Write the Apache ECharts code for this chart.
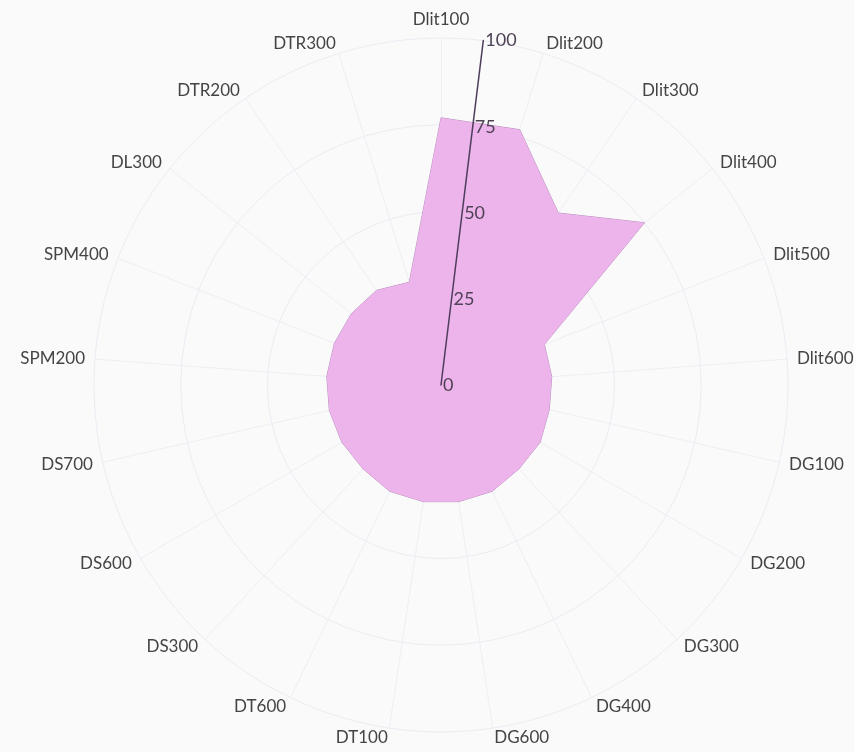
<!DOCTYPE html>
<html>
<head>
<meta charset="utf-8">
<script src="https://cdn.jsdelivr.net/npm/echarts@6/dist/echarts.min.js"></script>
<style>
  html, body { margin: 0; padding: 0; background: #fafafa; }
  #chart { width: 854px; height: 752px; }
</style>
</head>
<body>
<div id="chart"></div>
<script>
// indicator names, clockwise from the top
var names = ['Dlit100', 'Dlit200', 'Dlit300', 'Dlit400', 'Dlit500', 'Dlit600',
  'DG100', 'DG200', 'DG300', 'DG400', 'DG600', 'DT100', 'DT600',
  'DS300', 'DS600', 'DS700', 'SPM200', 'SPM400', 'DL300', 'DTR200', 'DTR300'];

// values, same order
var values = [77, 77, 60, 75, 32, 32,
  32, 33, 33, 34, 34, 34, 34,
  33, 33, 33, 33, 33, 33, 33, 31];

// tick labels of the scale axis
var ticks = [0, 25, 50, 75, 100];

// echarts radar runs counter-clockwise, so flip everything after the first
function ccw(arr) {
  return [arr[0]].concat(arr.slice(1).reverse());
}

var chart = echarts.init(document.getElementById('chart'));

chart.setOption({
  backgroundColor: '#fafafa',
  radar: {
    center: [441, 385],
    radius: 347,
    startAngle: 90,
    shape: 'circle',
    splitNumber: 4,
    indicator: ccw(names).map(function (n) { return { name: n, min: 0, max: 100 }; }),
    axisName: {
      color: '#444',
      fontFamily: 'Lato',
      fontSize: 17
    },
    nameGap: 10,
    axisLine: { lineStyle: { color: '#eceff4', width: 1 } },
    splitLine: { lineStyle: { color: '#eaedf3', width: 1 } },
    splitArea: { show: false },
    axisLabel: { show: false }
  },
  polar: {
    center: [441, 385],
    radius: 347
  },
  angleAxis: {
    startAngle: 83,
    type: 'value',
    min: 0,
    max: 360,
    show: false
  },
  radiusAxis: {
    type: 'value',
    min: ticks[0],
    max: ticks[ticks.length - 1],
    interval: ticks[1] - ticks[0],
    axisLine: { show: true, lineStyle: { color: '#4e3d5c', width: 1.5 } },
    axisTick: { show: false },
    splitLine: { show: false },
    axisLabel: {
      color: '#4f4256',
      fontFamily: 'Lato',
      fontSize: 18,
      align: 'left',
      verticalAlign: 'middle',
      margin: 0,
      padding: [0, 0, 0, 2]
    },
    z: 10
  },
  series: [{
    type: 'radar',
    symbol: 'none',
    lineStyle: { color: '#b98fbd', width: 1 },
    areaStyle: { color: '#edb3eb', opacity: 1 },
    data: [{ value: ccw(values) }]
  }]
});
</script>
</body>
</html>
